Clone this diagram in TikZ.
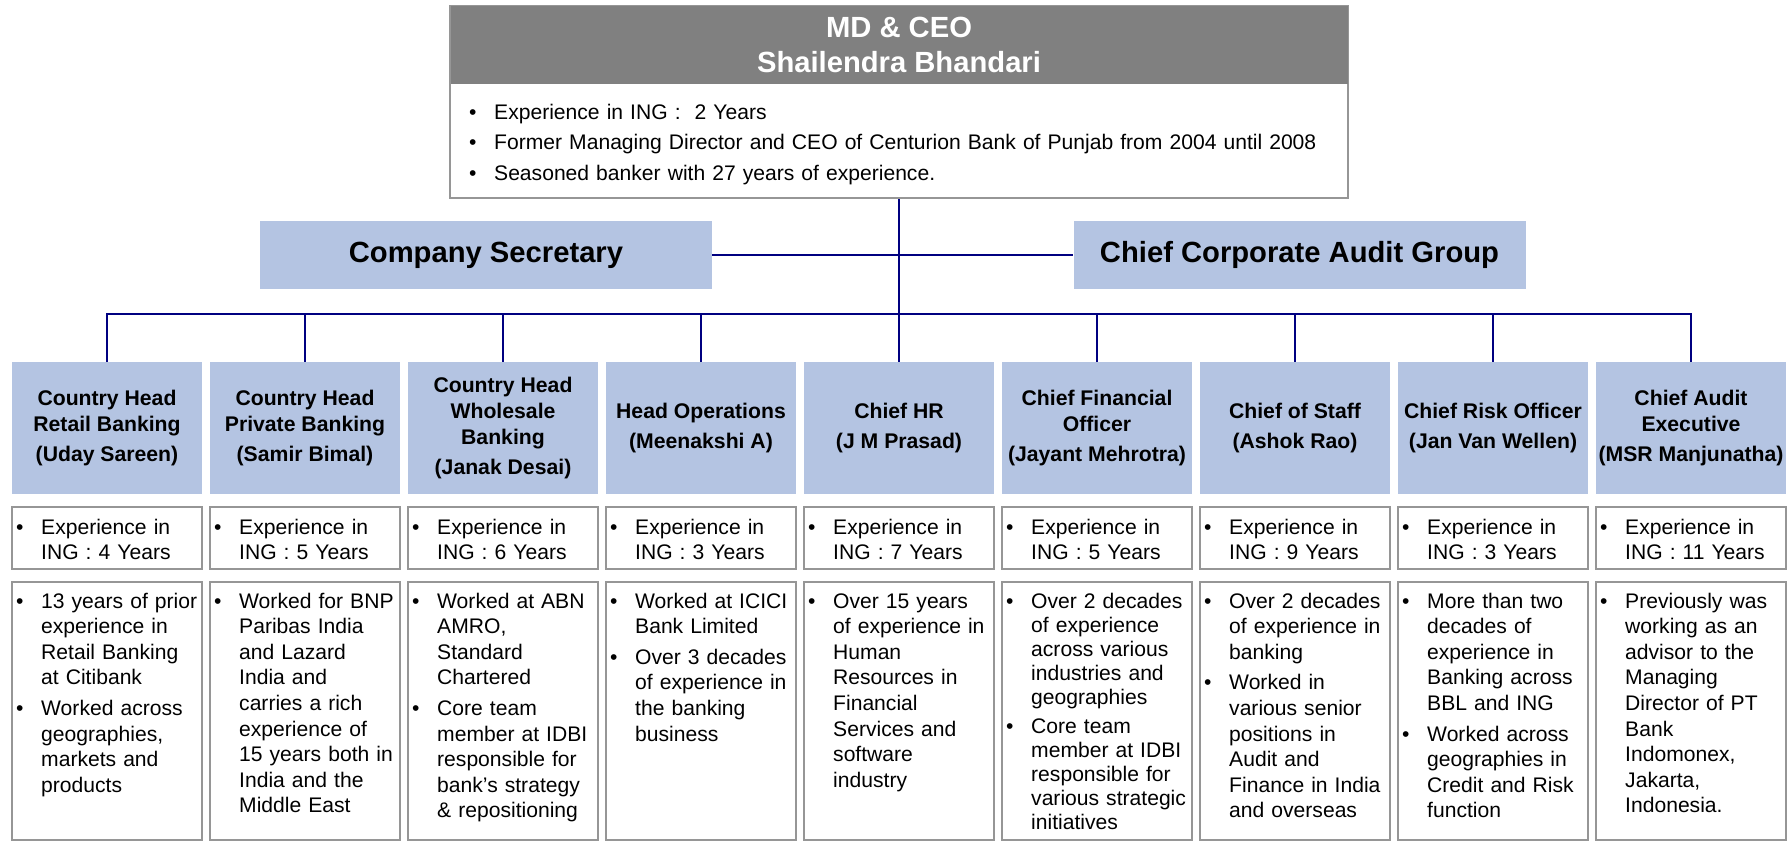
\documentclass[tikz,border=0pt]{standalone}
\usepackage{fontspec}
\setmainfont{Liberation Sans}
\usetikzlibrary{calc}

\definecolor{boxblue}{RGB}{180,196,226}
\definecolor{linknavy}{RGB}{0,0,128}
\definecolor{framegray}{RGB}{150,150,150}
\definecolor{headgray}{RGB}{128,128,128}

% one bullet paragraph with a hanging indent; the paragraph is closed inside
% the node group so that the hanging indent is still in force
\newcommand\bulletitem[1]{\hangindent=25pt\hangafter=1\noindent\makebox[25pt][l]{\textbullet}#1\par}
\newcommand\itemgap[1][5pt]{\vspace{#1}}

\tikzset{
  link/.style={draw=linknavy, line width=2pt},
  headbox/.style={fill=boxblue, minimum width=190pt, minimum height=132pt, inner sep=0pt,
    align=center, font=\bfseries\fontsize{21.2}{26}\selectfont},
  sidebox/.style={fill=boxblue, minimum width=452pt, minimum height=68pt, inner sep=0pt,
    font=\bfseries\fontsize{29.2}{35}\selectfont},
  expbox/.style={draw=framegray, line width=2pt, fill=white, minimum width=190pt, minimum height=62pt, inner sep=0pt},
  detailbox/.style={draw=framegray, line width=2pt, fill=white, minimum width=190pt, minimum height=258pt, inner sep=0pt},
  infotext/.style={anchor=base west, inner sep=0pt, text width=185pt, align=left,
    font=\fontsize{21.1}{25.6}\selectfont},
}

% heading box, years-in-ING box and detail box of one direct report
\newcommand\staffcolumn[4]{%
  \node[headbox] (h#1) at ({107+198*(#1-1)}, 428) {#2};
  \node[expbox] (e#1) at ({107+198*(#1-1)}, 538) {};
  \node[infotext] (et#1) at ($(e#1.north west)+(5,28)$) {\bulletitem{Experience in\newline ING : #3 Years}};
  \node[detailbox] (d#1) at ({107+198*(#1-1)}, 711) {};
  \node[infotext] (dt#1) at ($(d#1.north west)+(5,27)$) {#4};
}

\begin{document}
\begin{tikzpicture}[x=1pt, y=-1pt]
\useasboundingbox (0,0) rectangle (1791,841);

% MD & CEO
\node[draw=framegray, line width=2pt, fill=white, minimum width=898pt, minimum height=192pt, inner sep=0pt] (ceo) at (899,102) {};
\node[fill=headgray, minimum width=897pt, minimum height=78pt, inner sep=0pt] (ceohead) at (899,45) {};
\node[text=white, align=center, font=\bfseries\fontsize{29.2}{35.4}\selectfont] (ceoname) at (899,45) {MD \& CEO\\Shailendra Bhandari};
\node[anchor=base west, inner sep=0pt, text width=880pt, align=left, font=\fontsize{21.1}{30.5}\selectfont] (ceotext) at (469,119)
  {\bulletitem{Experience in ING : \ 2 Years}%
   \bulletitem{Former Managing Director and CEO of Centurion Bank of Punjab from 2004 until 2008}%
   \bulletitem{Seasoned banker with 27 years of experience.}};

% staff functions beside the CEO line
\node[sidebox] (cs) at (486,255) {Company Secretary};
\node[sidebox] (ccag) at (1299.5,255) {Chief Corporate Audit Group};

% direct reports
\staffcolumn{1}{Country Head\\Retail Banking\\[4pt](Uday Sareen)}{4}
  {\bulletitem{13 years of prior\newline experience in\newline Retail Banking\newline at Citibank}\itemgap
   \bulletitem{Worked across\newline geographies,\newline markets and\newline products}}
\staffcolumn{2}{Country Head\\Private Banking\\[4pt](Samir Bimal)}{5}
  {\bulletitem{Worked for BNP\newline Paribas India\newline and Lazard\newline India and\newline carries a rich\newline experience of\newline 15 years both in\newline India and the\newline Middle East}}
\staffcolumn{3}{Country Head\\Wholesale\\Banking\\[4pt](Janak Desai)}{6}
  {\bulletitem{Worked at ABN\newline AMRO,\newline Standard\newline Chartered}\itemgap
   \bulletitem{Core team\newline member at IDBI\newline responsible for\newline bank’s strategy\newline \& repositioning}}
\staffcolumn{4}{Head Operations\\[4pt](Meenakshi A)}{3}
  {\bulletitem{Worked at ICICI\newline Bank Limited}\itemgap
   \bulletitem{Over 3 decades\newline of experience in\newline the banking\newline business}}
\staffcolumn{5}{Chief HR\\[4pt](J M Prasad)}{7}
  {\bulletitem{Over 15 years\newline of experience in\newline Human\newline Resources in\newline Financial\newline Services and\newline software\newline industry}}
\staffcolumn{6}{Chief Financial\\Officer\\[4pt](Jayant Mehrotra)}{5}
  {\fontsize{21.1}{24.2}\selectfont
   \bulletitem{Over 2 decades\newline of experience\newline across various\newline industries and\newline geographies}\itemgap[4pt]
   \bulletitem{Core team\newline member at IDBI\newline responsible for\newline various strategic\newline initiatives}}
\staffcolumn{7}{Chief of Staff\\[4pt](Ashok Rao)}{9}
  {\bulletitem{Over 2 decades\newline of experience in\newline banking}\itemgap
   \bulletitem{Worked in\newline various senior\newline positions in\newline Audit and\newline Finance in India\newline and overseas}}
\staffcolumn{8}{Chief Risk Officer\\[4pt](Jan Van Wellen)}{3}
  {\bulletitem{More than two\newline decades of\newline experience in\newline Banking across\newline BBL and ING}\itemgap
   \bulletitem{Worked across\newline geographies in\newline Credit and Risk\newline function}}
\staffcolumn{9}{Chief Audit\\Executive\\[4pt](MSR Manjunatha)}{11}
  {\bulletitem{Previously was\newline working as an\newline advisor to the\newline Managing\newline Director of PT\newline Bank\newline Indomonex,\newline Jakarta,\newline Indonesia.}}

% connectors
\draw[link] (ceo.south) -- (h5.north);
\draw[link, line width=2.5pt] (cs.east) -- (ccag.west);
\draw[link] (h1.north) -- ++(0,-48) -| (h9.north);
\foreach \i in {2,3,4,6,7,8} {
  \draw[link] (h\i.north) -- ++(0,-48);
}
\end{tikzpicture}
\end{document}
